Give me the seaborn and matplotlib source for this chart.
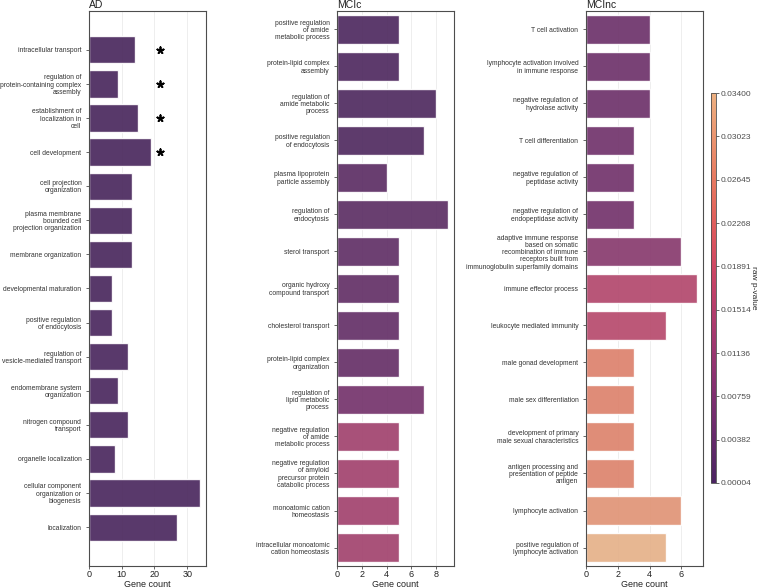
import numpy as np
import seaborn as sns
import matplotlib.pyplot as plt
from matplotlib.colors import Normalize
from matplotlib.cm import ScalarMappable
from matplotlib.ticker import MaxNLocator

# --- data ---
ad_terms = ["intracellular transport",
            "regulation of\nprotein-containing complex\nassembly",
            "establishment of\nlocalization in\ncell",
            "cell development",
            "cell projection\norganization",
            "plasma membrane\nbounded cell\nprojection organization",
            "membrane organization",
            "developmental maturation",
            "positive regulation\nof endocytosis",
            "regulation of\nvesicle-mediated transport",
            "endomembrane system\norganization",
            "nitrogen compound\ntransport",
            "organelle localization",
            "cellular component\norganization or\nbiogenesis",
            "localization"]
ad_counts = [14, 9, 15, 19, 13, 13, 13, 7, 7, 12, 9, 12, 8, 34, 27]
ad_pvals = [0.0000449, 0.00006, 0.00007, 0.00008, 0.0001, 0.0001, 0.00012, 0.00015,
            0.0002, 0.0002, 0.00025, 0.00025, 0.0003, 0.0003, 0.0003]
ad_sig = [True, True, True, True] + [False] * 11

mcic_terms = ["positive regulation\nof amide\nmetabolic process",
              "protein-lipid complex\nassembly",
              "regulation of\namide metabolic\nprocess",
              "positive regulation\nof endocytosis",
              "plasma lipoprotein\nparticle assembly",
              "regulation of\nendocytosis",
              "sterol transport",
              "organic hydroxy\ncompound transport",
              "cholesterol transport",
              "protein-lipid complex\norganization",
              "regulation of\nlipid metabolic\nprocess",
              "negative regulation\nof amide\nmetabolic process",
              "negative regulation\nof amyloid\nprecursor protein\ncatabolic process",
              "monoatomic cation\nhomeostasis",
              "intracellular monoatomic\ncation homeostasis"]
mcic_counts = [5, 5, 8, 7, 4, 9, 5, 5, 5, 5, 7, 5, 5, 5, 5]
mcic_pvals = [0.0008, 0.0009, 0.0010, 0.0012, 0.0030, 0.0032, 0.0040, 0.0042,
              0.0044, 0.0046, 0.0068, 0.0135, 0.0136, 0.0137, 0.0138]

mcinc_terms = ["T cell activation",
               "lymphocyte activation involved\nin immune response",
               "negative regulation of\nhydrolase activity",
               "T cell differentiation",
               "negative regulation of\npeptidase activity",
               "negative regulation of\nendopeptidase activity",
               "adaptive immune response\nbased on somatic\nrecombination of immune\nreceptors built from\nimmunoglobulin superfamily domains",
               "immune effector process",
               "leukocyte mediated immunity",
               "male gonad development",
               "male sex differentiation",
               "development of primary\nmale sexual characteristics",
               "antigen processing and\npresentation of peptide\nantigen",
               "lymphocyte activation",
               "positive regulation of\nlymphocyte activation"]
mcinc_counts = [4, 4, 4, 3, 3, 3, 6, 7, 5, 3, 3, 3, 3, 6, 5]
mcinc_pvals = [0.0058, 0.0059, 0.0060, 0.0064, 0.0065, 0.0066, 0.0098, 0.0160,
               0.0168, 0.0268, 0.0269, 0.0270, 0.0271, 0.0295, 0.0340]

panels = [("AD", ad_terms, ad_counts, ad_pvals),
          ("MCIc", mcic_terms, mcic_counts, mcic_pvals),
          ("MCInc", mcinc_terms, mcinc_counts, mcinc_pvals)]

sns.set_theme(style="whitegrid", rc={
    "axes.edgecolor": "#4d4d4d", "axes.linewidth": 0.8,
    "grid.color": "#ebebeb", "grid.linewidth": 0.6,
    "xtick.bottom": True, "ytick.left": True,
    "xtick.color": "#4d4d4d", "ytick.color": "#4d4d4d",
    "xtick.major.size": 2.0, "ytick.major.size": 2.0,
    "xtick.major.width": 0.6, "ytick.major.width": 0.6,
})
plt.rcParams["font.family"] = ["Liberation Sans", "DejaVu Sans"]

cmap = sns.color_palette("flare_r", as_cmap=True)
all_p = ad_pvals + mcic_pvals + mcinc_pvals
norm = Normalize(vmin=min(all_p), vmax=max(all_p))

fig = plt.figure(figsize=(7.63, 5.88), dpi=100)
lefts = [0.1166, 0.4417, 0.768]

for (name, terms, counts, pvals), left in zip(panels, lefts):
    ax = fig.add_axes([left, 0.0374, 0.1533, 0.944])
    colors = [cmap(norm(p)) for p in pvals]
    sns.barplot(x=counts, y=terms, hue=terms, palette=colors, legend=False,
                saturation=0.85, alpha=0.92, width=0.8, ax=ax)
    ax.set_axisbelow(True)
    ax.set_xlim(0, max(counts) * 1.05)
    ax.xaxis.set_major_locator(MaxNLocator(nbins=5, integer=True, steps=[1, 2, 5, 10]))
    ax.set_yticks(range(len(terms)), terms, fontsize=4.9, linespacing=1.05,
                  color="#333333")
    ax.tick_params(axis="y", pad=3.5)
    ax.tick_params(axis="x", labelsize=6.5, pad=0.8, labelcolor="#222222")
    ax.set_xlabel("Gene count", fontsize=6.5, labelpad=0.5, color="#222222")
    ax.set_ylabel("")
    ax.set_title(name, loc="left", fontsize=7.5, pad=2, color="#222222")
    for s in ax.spines.values():
        s.set_visible(True)
        s.set_color("#4d4d4d")
        s.set_linewidth(0.8)
    if name == "AD":
        sig_y = [i for i, s in enumerate(ad_sig) if s]
        ax.scatter([max(counts) * 0.64] * len(sig_y), sig_y, marker=(5, 2, 0),
                   s=22, linewidths=1.3, color="black", zorder=5)

cax = fig.add_axes([0.932, 0.1786, 0.0066, 0.663])
sm = ScalarMappable(norm=norm, cmap=cmap)
cb = fig.colorbar(sm, cax=cax)
cb.set_ticks(np.linspace(norm.vmin, norm.vmax, 10))
cb.ax.yaxis.set_major_formatter(plt.FormatStrFormatter("%.5f"))
cb.ax.tick_params(labelsize=6, length=2, width=0.6, pad=1.5)
cb.outline.set_linewidth(0.6)
cb.outline.set_edgecolor("#4d4d4d")
cb.set_label("raw p-value", fontsize=6, rotation=270, labelpad=4)

plt.savefig("out.png", dpi=100)
